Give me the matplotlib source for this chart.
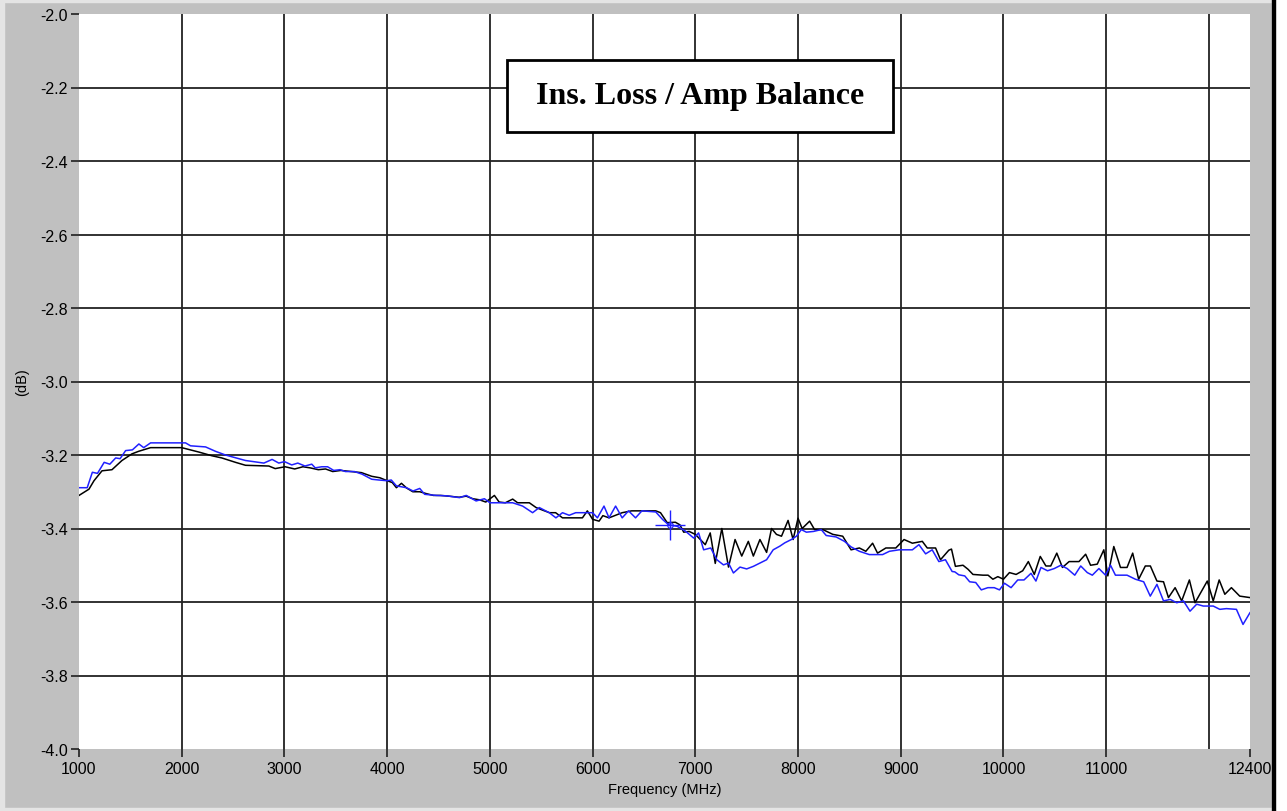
import matplotlib
matplotlib.use("Agg")
import matplotlib.pyplot as plt
from matplotlib.patches import Rectangle

# trace 1 (black)
black_f = [1000, 1097, 1146, 1224, 1321, 1418, 1515, 1580, 1649, 1697, 2000, 2070, 2167, 2293, 2390,
           2524, 2621, 2848, 2910, 3006, 3100, 3180, 3250, 3330, 3400, 3470, 3550, 3650, 3750, 3850, 3930,
           4000, 4050, 4090, 4139, 4190, 4250, 4317, 4380, 4450, 4520, 4600, 4700, 4770, 4834, 4900, 4960,
           5044, 5090, 5150, 5222, 5270, 5384, 5450, 5513, 5580, 5640, 5707, 5800, 5901, 5949, 6000, 6063,
           6100, 6160, 6288, 6380, 6500, 6615, 6661, 6726, 6806, 6850, 6887, 6940, 7000, 7048, 7097, 7145,
           7194, 7258, 7323, 7387, 7452, 7516, 7565, 7629, 7694, 7742, 7790, 7839, 7903, 7952, 8000, 8040,
           8113, 8161, 8242, 8339, 8435, 8516, 8597, 8660, 8726, 8774, 8855, 8952, 9032, 9113, 9210, 9258,
           9339, 9387, 9468, 9494, 9532, 9606, 9655, 9703, 9800, 9850, 9897, 9945, 10000, 10058, 10123,
           10187, 10242, 10300, 10358, 10413, 10460, 10519, 10574, 10639, 10735, 10800, 10848, 10913, 10977,
           11016, 11074, 11139, 11203, 11258, 11316, 11381, 11430, 11494, 11558, 11606, 11671, 11735, 11810,
           11865, 11919, 11984, 12042, 12100, 12155, 12219, 12300, 12400]
black_db = [-3.31, -3.293, -3.27, -3.243, -3.24, -3.215, -3.197, -3.19, -3.184, -3.18, -3.18, -3.185, -3.192,
            -3.202, -3.208, -3.22, -3.228, -3.23, -3.237, -3.232, -3.238, -3.232, -3.235, -3.24, -3.238,
            -3.245, -3.242, -3.245, -3.248, -3.258, -3.262,
            -3.27, -3.275, -3.289, -3.277, -3.29, -3.3, -3.3, -3.305, -3.31, -3.31, -3.312, -3.315, -3.312,
            -3.319, -3.322, -3.328, -3.31, -3.328, -3.33, -3.32, -3.33, -3.33, -3.343, -3.35, -3.357, -3.357,
            -3.371, -3.371, -3.371, -3.352, -3.375, -3.38, -3.365, -3.371, -3.357, -3.352, -3.352, -3.352,
            -3.357, -3.384, -3.383, -3.39, -3.41, -3.408, -3.416, -3.43, -3.444, -3.412, -3.495, -3.4,
            -3.505, -3.43, -3.475, -3.435, -3.475, -3.43, -3.465, -3.4, -3.416, -3.421, -3.378, -3.43,
            -3.372, -3.4, -3.38, -3.403, -3.403, -3.416, -3.421, -3.458, -3.453, -3.462, -3.44, -3.467,
            -3.453, -3.453, -3.43, -3.44, -3.435, -3.453, -3.453, -3.485, -3.459, -3.456, -3.503, -3.5,
            -3.511, -3.525, -3.527, -3.527, -3.538, -3.531, -3.538, -3.52, -3.525, -3.515, -3.49, -3.525,
            -3.476, -3.502, -3.502, -3.467, -3.506, -3.49, -3.49, -3.47, -3.5, -3.497, -3.458, -3.529,
            -3.449, -3.506, -3.506, -3.467, -3.538, -3.502, -3.502, -3.543, -3.545, -3.588, -3.561, -3.597,
            -3.54, -3.602, -3.575, -3.543, -3.597, -3.54, -3.579, -3.561, -3.584, -3.588]

# trace 2 (blue)
blue_f = [1000, 1080, 1130, 1180, 1245, 1300, 1357, 1400, 1454, 1520, 1583, 1630, 1697, 2037, 2086, 2232,
          2329, 2426, 2621, 2750, 2800, 2880, 2945, 3000, 3071, 3130, 3200, 3266, 3300, 3363, 3420, 3480,
          3540, 3594, 3680, 3755, 3850, 3918, 4000, 4040, 4090, 4188, 4252, 4317, 4365, 4479, 4576, 4705,
          4770, 4866, 4947, 5000, 5222, 5319, 5416, 5481, 5578, 5643, 5707, 5772, 5836, 6000, 6047, 6111,
          6160, 6224, 6288, 6350, 6418, 6480, 6615, 6680, 6740, 6823, 6903, 6984, 7032, 7081, 7150, 7210,
          7274, 7323, 7371, 7435, 7500, 7565, 7629, 7694, 7758, 7823, 7871, 7935, 7984, 8032, 8081, 8150,
          8226, 8274, 8371, 8452, 8516, 8597, 8694, 8823, 8890, 8984, 9113, 9177, 9242, 9306, 9371, 9435,
          9500, 9526, 9565, 9623, 9671, 9730, 9784, 9848, 9910, 9961, 10010, 10074, 10139, 10200, 10268,
          10316, 10365, 10429, 10494, 10558, 10620, 10694, 10752, 10816, 10865, 10929, 10994, 11042, 11090,
          11203, 11284, 11365, 11429, 11494, 11558, 11623, 11687, 11752, 11816, 11881, 11945, 12042, 12106,
          12170, 12268, 12332, 12400]
blue_db = [-3.289, -3.289, -3.247, -3.25, -3.22, -3.225, -3.208, -3.21, -3.188, -3.186, -3.17, -3.18, -3.167,
           -3.167, -3.175, -3.178, -3.19, -3.2, -3.215, -3.22, -3.222, -3.212, -3.222, -3.218, -3.227,
           -3.222, -3.23, -3.225, -3.235, -3.232, -3.232, -3.242, -3.24, -3.245, -3.245, -3.252, -3.266,
           -3.268, -3.27, -3.268, -3.284, -3.289, -3.298, -3.291, -3.307, -3.31, -3.311, -3.316, -3.31,
           -3.325, -3.319, -3.33, -3.33, -3.339, -3.357, -3.343, -3.357, -3.371, -3.357, -3.364, -3.357,
           -3.357, -3.371, -3.339, -3.371, -3.339, -3.371, -3.352, -3.371, -3.352, -3.355, -3.375, -3.39,
           -3.394, -3.407, -3.426, -3.412, -3.458, -3.453, -3.485, -3.499, -3.494, -3.521, -3.505, -3.51,
           -3.503, -3.494, -3.485, -3.458, -3.448, -3.439, -3.43, -3.421, -3.403, -3.41, -3.408, -3.403,
           -3.419, -3.423, -3.435, -3.45, -3.462, -3.471, -3.471, -3.462, -3.458, -3.458, -3.444, -3.469,
           -3.458, -3.49, -3.485, -3.517, -3.518, -3.526, -3.529, -3.545, -3.547, -3.567, -3.561, -3.561,
           -3.567, -3.549, -3.561, -3.54, -3.54, -3.522, -3.543, -3.506, -3.515, -3.509, -3.5, -3.509,
           -3.527, -3.502, -3.52, -3.527, -3.509, -3.527, -3.5, -3.527, -3.527, -3.538, -3.545, -3.584,
           -3.552, -3.597, -3.593, -3.602, -3.597, -3.625, -3.606, -3.611, -3.611, -3.62, -3.618, -3.62,
           -3.661, -3.629]

cursor_f = 6750
cursor_db = -3.39

xticks = [1000, 2000, 3000, 4000, 5000, 6000, 7000, 8000, 9000, 10000, 11000, 12400]
xgrid = [2000, 3000, 4000, 5000, 6000, 7000, 8000, 9000, 10000, 11000, 12000]
yticks = [-4.0, -3.8, -3.6, -3.4, -3.2, -3.0, -2.8, -2.6, -2.4, -2.2, -2.0]

plt.rcParams['font.family'] = ['Liberation Sans', 'DejaVu Sans']

fig = plt.figure(figsize=(12.87, 8.12), dpi=100, facecolor='#c0c0c0')
ax = fig.add_axes([79 / 1287, 1 - 750 / 812, 1171 / 1287, 735 / 812])
ax.set_facecolor('white')

for g in xgrid:
    ax.axvline(g, color='#222222', lw=1.3, zorder=1)
for g in yticks[1:-1]:
    ax.axhline(g, color='#222222', lw=1.3, zorder=1)

ax.plot(black_f, black_db, color='black', lw=1.1, zorder=3)
ax.plot(blue_f, blue_db, color='#2020ff', lw=1.1, zorder=4)
ax.plot([cursor_f], [cursor_db], marker='+', ms=22, mew=1.0, color='#2020ff', zorder=5)
ax.plot([cursor_f], [cursor_db], marker='o', ms=4, mfc='none', mew=0.8, color='#2020ff', zorder=5)

ax.set_xlim(1000, 12400)
ax.set_ylim(-4.0, -2.0)
ax.set_xticks(xticks)
ax.set_xticklabels([str(t) for t in xticks])
ax.set_yticks(yticks)
ax.set_yticklabels(['%.1f' % t for t in yticks])
ax.tick_params(axis='both', labelsize=11.5, color='#202020', direction='out', length=6, width=1.2)
ax.tick_params(axis='x', pad=3)
ax.tick_params(axis='y', pad=2)
for s in ax.spines.values():
    s.set_visible(False)

ax.set_xlabel('Frequency (MHz)', fontsize=10.5, labelpad=4)
ax.set_ylabel('(dB)', fontsize=10.5, labelpad=8)

# title box
ax.add_patch(Rectangle((0.3655, 0.8395), 0.3295, 0.0979, transform=ax.transAxes,
                       facecolor='white', edgecolor='black', lw=2, zorder=6))
ax.text(0.5303, 0.8885, 'Ins. Loss / Amp Balance', transform=ax.transAxes, ha='center', va='center',
        fontsize=23, fontweight='bold', family='Liberation Serif', zorder=7)

# window frame
fig.add_artist(Rectangle((0, 0), 4 / 1287, 1, transform=fig.transFigure, color='#e4e4e4'))
fig.add_artist(Rectangle((0, 1 - 3 / 812), 1, 3 / 812, transform=fig.transFigure, color='#e4e4e4'))
fig.add_artist(Rectangle((0, 0), 1, 3 / 812, transform=fig.transFigure, color='#e4e4e4'))
fig.add_artist(Rectangle((1272 / 1287, 0), 15 / 1287, 1, transform=fig.transFigure, color='white'))
fig.add_artist(Rectangle((1272 / 1287, 0), 3 / 1287, 1, transform=fig.transFigure, color='black'))

fig.savefig('out.png', dpi=100, facecolor=fig.get_facecolor())
